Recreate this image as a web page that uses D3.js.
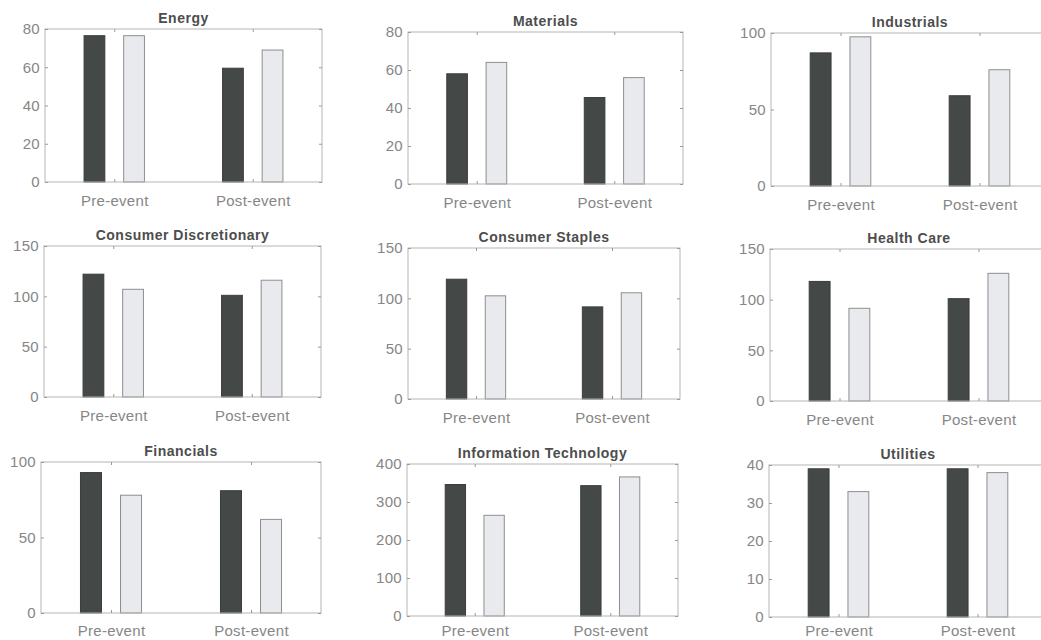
<!DOCTYPE html>
<html>
<head>
<meta charset="utf-8">
<script src="https://cdn.jsdelivr.net/npm/d3@7"></script>
<style>
  body { margin: 0; background: #fff; }
  svg { display: block; }
</style>
</head>
<body>
<svg id="chart" width="1041" height="640"></svg>
<script>
// Sector panels, in reading order
const sectors = [
  "Energy", "Materials", "Industrials",
  "Consumer Discretionary", "Consumer Staples", "Health Care",
  "Financials", "Information Technology", "Utilities"
];
const periods = ["Pre-event", "Post-event"];

// First (dark) series per sector: [Pre-event, Post-event]
const darkValues = [
  [76.5, 59.5], [58, 45.5], [87, 59],
  [122, 101], [119, 91.5], [118, 101],
  [93, 81], [346, 343], [39, 39]
];
// Second (light) series per sector: [Pre-event, Post-event]
const lightValues = [
  [76.5, 69], [64, 56], [97.5, 76],
  [107, 116], [102.5, 105.5], [91.5, 126],
  [78, 62], [265, 366], [33, 38]
];
// y-axis tick labels per sector (last one is the axis maximum)
const yTickValues = [
  [0, 20, 40, 60, 80], [0, 20, 40, 60, 80], [0, 50, 100],
  [0, 50, 100, 150], [0, 50, 100, 150], [0, 50, 100, 150],
  [0, 50, 100], [0, 100, 200, 300, 400], [0, 10, 20, 30, 40]
];

// Axes boxes on the page: [left, top, right, bottom]
const boxes = [
  [45, 29, 322, 182], [408, 32, 683, 184], [771, 33, 1049, 186],
  [44, 246, 321, 397], [408, 248, 680, 399], [770, 249, 1048, 401],
  [41, 462, 321, 613], [407, 464, 678, 616], [769, 465, 1047, 617]
];

const barOffset = 0.143;   // group offset of each bar, in category units
const barWidth = 0.15;     // bar width, in category units
const font = "'Liberation Sans', Arial, Helvetica, sans-serif";
const pageHeight = 640;

const svg = d3.select("#chart");

sectors.forEach((name, i) => {
  const [x0, y0, x1, y1] = boxes[i];
  const w = x1 - x0, h = y1 - y0;
  const ticks = yTickValues[i];

  const x = d3.scaleLinear().domain([0.5, 2.5]).range([0, w]);
  const y = d3.scaleLinear().domain([0, ticks[ticks.length - 1]]).range([h, 0]);

  const g = svg.append("g").attr("transform", `translate(${x0},${y0})`);

  // bars
  const rows = [];
  periods.forEach((p, j) => {
    rows.push({ cat: j + 1, off: -barOffset, v: darkValues[i][j], dark: true });
    rows.push({ cat: j + 1, off: barOffset, v: lightValues[i][j], dark: false });
  });
  const bw = x(barWidth) - x(0);
  g.selectAll("rect.bar").data(rows).join("rect")
    .attr("class", "bar")
    .attr("x", d => x(d.cat + d.off) - bw / 2)
    .attr("width", bw)
    .attr("y", d => y(d.v))
    .attr("height", d => y(0) - y(d.v))
    .attr("fill", d => d.dark ? "#444846" : "#e8eaee")
    .attr("stroke", d => d.dark ? "#3a3d3c" : "#8e8e8e")
    .attr("stroke-width", 1);

  // axis frame
  g.append("rect")
    .attr("x", 0).attr("y", 0).attr("width", w).attr("height", h)
    .attr("fill", "none").attr("stroke", "#b5b5b5").attr("stroke-width", 1);

  const styleAxis = sel => {
    sel.select(".domain").remove();
    sel.selectAll(".tick line").attr("stroke", "#9a9a9a");
    sel.selectAll(".tick text")
      .attr("fill", "#868686")
      .style("font-family", font)
      .style("font-size", "15px")
      .style("letter-spacing", "0.3px");
  };

  // keep the category labels of the lowest row inside the page
  const labelPad = Math.min(13, pageHeight - 3.5 - 10.7 - y1);

  g.append("g")
    .call(d3.axisLeft(y).tickValues(ticks).tickFormat(d3.format("d"))
      .tickSizeInner(-3).tickSizeOuter(0).tickPadding(5))
    .call(styleAxis);
  g.append("g").attr("transform", `translate(${w},0)`)
    .call(d3.axisRight(y).tickValues(ticks).tickFormat("")
      .tickSizeInner(-3).tickSizeOuter(0))
    .call(styleAxis);
  g.append("g").attr("transform", `translate(0,${h})`)
    .call(d3.axisBottom(x).tickValues([1, 2]).tickFormat(d => periods[d - 1])
      .tickSizeInner(-3).tickSizeOuter(0).tickPadding(labelPad))
    .call(styleAxis);
  g.append("g")
    .call(d3.axisTop(x).tickValues([1, 2]).tickFormat("")
      .tickSizeInner(-3).tickSizeOuter(0))
    .call(styleAxis);

  // panel title
  g.append("text")
    .attr("x", w / 2).attr("y", -6)
    .attr("text-anchor", "middle")
    .attr("fill", "#4d4d4d")
    .style("font-family", font)
    .style("font-size", "14px")
    .style("font-weight", "bold")
    .style("letter-spacing", "0.5px")
    .text(name);
});
</script>
</body>
</html>
